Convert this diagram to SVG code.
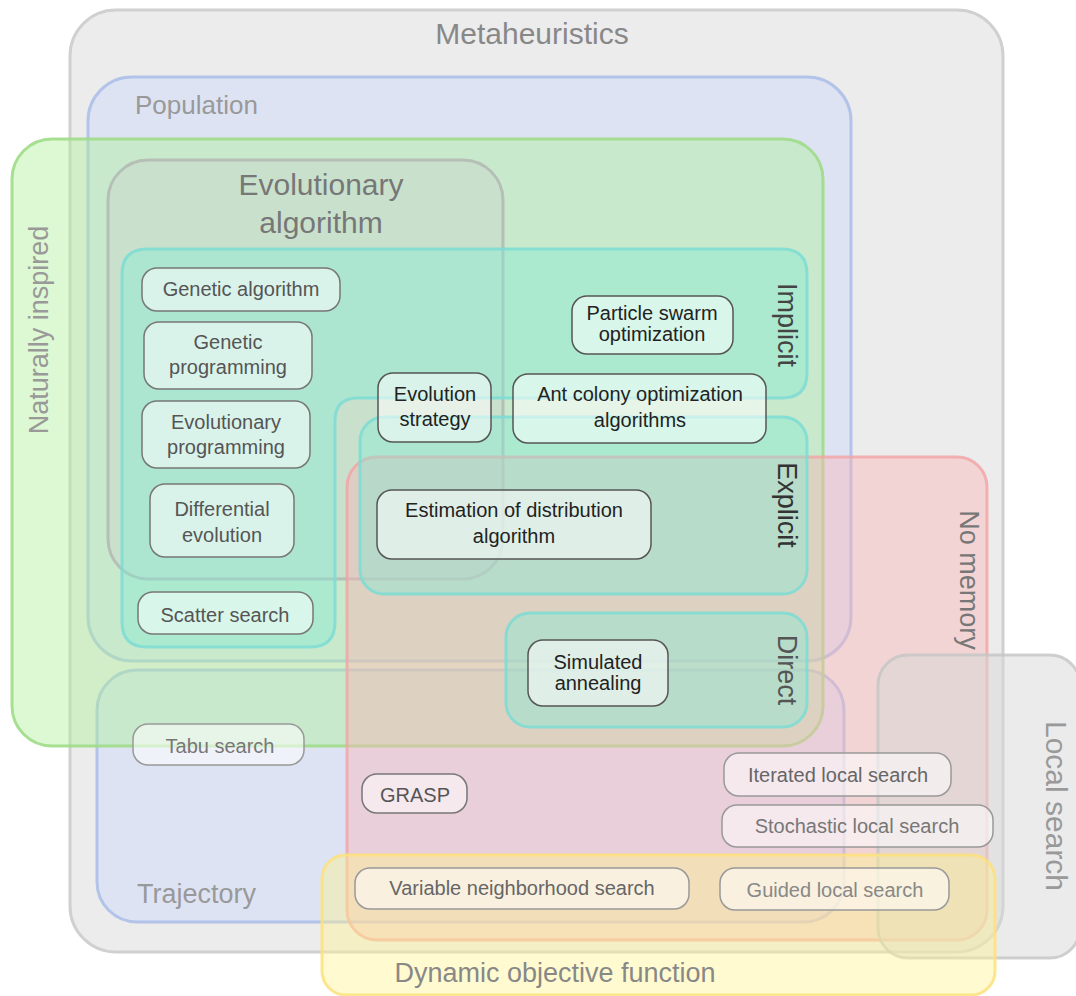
<svg xmlns="http://www.w3.org/2000/svg" width="1076" height="996" viewBox="0 0 1076 996">
<style>
text{font-family:"Liberation Sans",Arial,sans-serif}
.reg{stroke-width:3}
.meta{fill:#ececec;stroke:#d0d0d0}
.blue{fill:rgb(205,218,250);fill-opacity:.5;stroke:#a9bde8;stroke-opacity:.85}
.green{fill:rgb(175,240,150);fill-opacity:.42;stroke:#9edc88;stroke-opacity:.9}
.evo{fill:rgb(205,205,205);fill-opacity:.25;stroke:#aaa;stroke-opacity:.65}
.cyan{fill:rgb(130,234,214);fill-opacity:.4;stroke:#7cdcd4;stroke-opacity:.85}
.red{fill:rgb(250,178,182);fill-opacity:.42;stroke:#f2a2a4;stroke-opacity:.8}
.ls{fill:rgb(215,215,215);fill-opacity:.5;stroke:#c4c4c4;stroke-opacity:.8}
.yel{fill:rgb(255,242,140);fill-opacity:.42;stroke:#fde07e;stroke-opacity:.85}
.lab{font-size:27px}
.node rect{fill:#fff;fill-opacity:.55;stroke-width:1.5;rx:15px}
.node text{font-size:20px;text-anchor:middle}
.dk rect{stroke:#555}.dk text{fill:#222}
.md rect{stroke:#777}.md text{fill:#555}
.lt rect{stroke:#999}.lt text{fill:#777}
</style>
<g id="metaheuristics">
<rect class="reg meta" x="70" y="10" width="933" height="942" rx="46"/>
<text x="532" y="44" text-anchor="middle" font-size="30" fill="#888">Metaheuristics</text>
</g>
<g id="population">
<rect class="reg blue" x="88" y="77" width="763" height="584" rx="44"/>
<text x="135" y="114" font-size="26" fill="#999">Population</text>
</g>
<g id="trajectory">
<rect class="reg blue" x="97" y="670" width="747" height="252" rx="40"/>
<text x="137" y="903" class="lab" fill="#999">Trajectory</text>
</g>
<g id="naturally-inspired">
<rect class="reg green" x="12" y="139" width="811" height="607" rx="40"/>
<text transform="translate(48,330) rotate(-90)" text-anchor="middle" class="lab" fill="#999">Naturally inspired</text>
</g>
<g id="evolutionary-algorithm">
<rect class="reg evo" x="108" y="160" width="395" height="419" rx="40"/>
<text x="321" y="195" text-anchor="middle" font-size="30" fill="#777">Evolutionary</text>
<text x="321" y="233" text-anchor="middle" font-size="30" fill="#777">algorithm</text>
</g>
<g id="implicit">
<path class="reg cyan" d="M147,249 H782 Q807,249 807,274 V373 Q807,398 782,398 H358 Q335,398 335,421 V622 Q335,647 310,647 H147 Q122,647 122,622 V274 Q122,249 147,249 Z"/>
<text transform="translate(778,325) rotate(90)" text-anchor="middle" class="lab" fill="#444">Implicit</text>
</g>
<g id="no-memory">
<rect class="reg red" x="347" y="457" width="640" height="483" rx="30"/>
<text transform="translate(960,580) rotate(90)" text-anchor="middle" class="lab" fill="#777">No memory</text>
</g>
<g id="explicit">
<rect class="reg cyan" x="360" y="417" width="447" height="177" rx="24"/>
<text transform="translate(778,505) rotate(90)" text-anchor="middle" class="lab" fill="#333">Explicit</text>
</g>
<g id="direct">
<rect class="reg cyan" x="506" y="613" width="301" height="114" rx="24"/>
<text transform="translate(778,670) rotate(90)" text-anchor="middle" class="lab" fill="#555">Direct</text>
</g>
<g id="local-search">
<rect class="reg ls" x="878" y="655" width="202" height="303" rx="30"/>
<text transform="translate(1046,806) rotate(90)" text-anchor="middle" font-size="30" fill="#999">Local search</text>
</g>
<g id="dynamic-objective-function">
<rect class="reg yel" x="322" y="855" width="673" height="140" rx="24"/>
<text x="555" y="982" text-anchor="middle" class="lab" fill="#888">Dynamic objective function</text>
</g>
<g id="connectors"/>
<g id="genetic-algorithm" class="node md"><rect x="142" y="268" width="198" height="43"/><text x="241" y="296">Genetic algorithm</text></g>
<g id="genetic-programming" class="node md"><rect x="144" y="322" width="168" height="67"/><text x="228" y="349">Genetic</text><text x="228" y="374">programming</text></g>
<g id="evolutionary-programming" class="node md"><rect x="142" y="401" width="168" height="67"/><text x="226" y="429">Evolutionary</text><text x="226" y="454">programming</text></g>
<g id="differential-evolution" class="node md"><rect x="150" y="484" width="144" height="73"/><text x="222" y="516">Differential</text><text x="222" y="542">evolution</text></g>
<g id="scatter-search" class="node md"><rect x="138" y="592" width="175" height="42"/><text x="225" y="622">Scatter search</text></g>
<g id="evolution-strategy" class="node dk"><rect x="378" y="373" width="113" height="69"/><text x="435" y="401">Evolution</text><text x="435" y="426">strategy</text></g>
<g id="particle-swarm" class="node dk"><rect x="572" y="296" width="161" height="58"/><text x="652" y="320">Particle swarm</text><text x="652" y="341">optimization</text></g>
<g id="ant-colony" class="node dk"><rect x="513" y="374" width="253" height="69"/><text x="640" y="401">Ant colony optimization</text><text x="640" y="427">algorithms</text></g>
<g id="estimation-of-distribution" class="node dk"><rect x="377" y="490" width="274" height="69"/><text x="514" y="517">Estimation of distribution</text><text x="514" y="543">algorithm</text></g>
<g id="simulated-annealing" class="node dk"><rect x="528" y="640" width="140" height="66"/><text x="598" y="669">Simulated</text><text x="598" y="690">annealing</text></g>
<g id="tabu-search" class="node lt"><rect x="133" y="724" width="171" height="41"/><text x="220" y="753">Tabu search</text></g>
<g id="grasp" class="node md"><rect x="362" y="774" width="105" height="39"/><text x="415" y="802">GRASP</text></g>
<g id="iterated-local-search" class="node lt"><rect x="724" y="753" width="227" height="43"/><text x="838" y="782" style="fill:#666">Iterated local search</text></g>
<g id="stochastic-local-search" class="node lt"><rect x="722" y="805" width="271" height="42"/><text x="857" y="833">Stochastic local search</text></g>
<g id="variable-neighborhood-search" class="node lt"><rect x="355" y="868" width="334" height="41"/><text x="522" y="895" style="fill:#666">Variable neighborhood search</text></g>
<g id="guided-local-search" class="node lt"><rect x="720" y="868" width="229" height="42"/><text x="835" y="897" style="fill:#888">Guided local search</text></g>
</svg>
